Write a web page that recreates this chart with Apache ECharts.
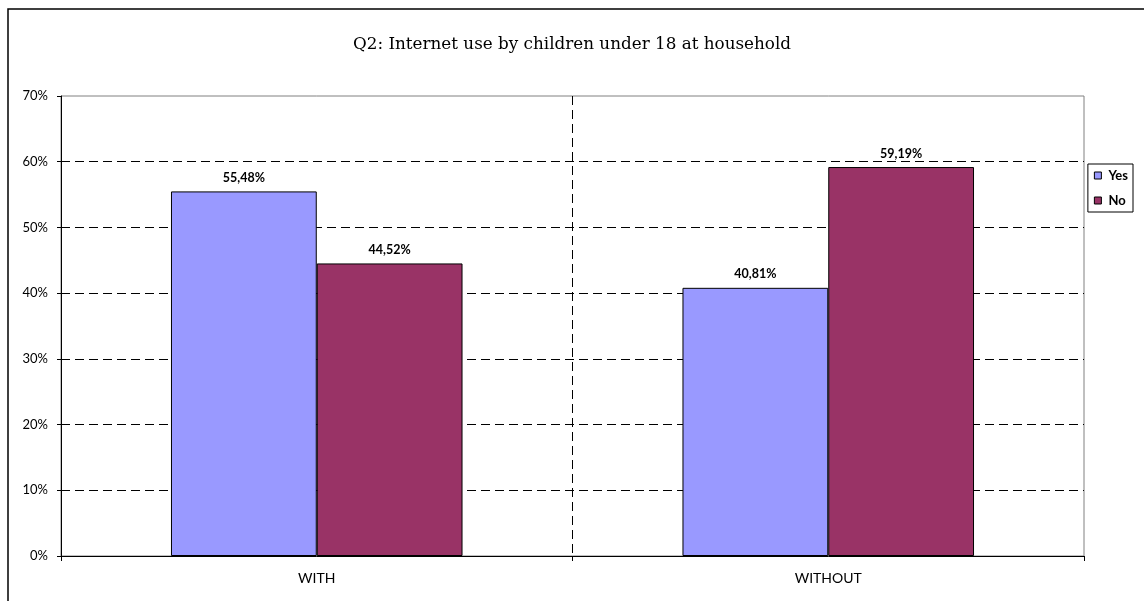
<!DOCTYPE html>
<html>
<head>
<meta charset="utf-8">
<script src="https://cdn.jsdelivr.net/npm/echarts@6/dist/echarts.min.js"></script>
<style>html,body{margin:0;padding:0;background:#fff}#c{width:1144px;height:601px}</style>
</head>
<body>
<div id="c"></div>
<script>
const categories = ['WITH', 'WITHOUT'];
const seriesNames = ['Yes', 'No'];
const yesValues = [55.48, 40.81];
const noValues = [44.52, 59.19];
const yTicks = [0, 10, 20, 30, 40, 50, 60, 70];
const titleText = 'Q2: Internet use by children under 18 at household';

const chart = echarts.init(document.getElementById('c'), null, {renderer: 'canvas'});
const fmt = p => p.value.toFixed(2).replace('.', ',') + '%';
const labelStyle = {show: true, position: 'top', distance: 7, formatter: fmt,
  fontFamily: 'Lato, "Open Sans", sans-serif', fontWeight: 'bold', fontSize: 12.5, color: '#000'};

chart.setOption({
  animation: false,
  backgroundColor: '#fff',
  title: {text: titleText, left: 'center', top: 31,
    textStyle: {fontFamily: '"DejaVu Serif", serif', fontWeight: 'normal', fontSize: 16.8, color: '#000'}},
  graphic: [{type: 'rect', shape: {x: 8, y: 9, width: 1300, height: 800},
    style: {fill: 'none', stroke: '#000', lineWidth: 1.5}, silent: true, z: 100}],
  legend: {orient: 'vertical', right: 11, top: 164, data: seriesNames,
    itemWidth: 7, itemHeight: 7, itemGap: 12, padding: [5, 5, 5, 6],
    borderColor: '#000', borderWidth: 1,
    icon: 'rect',
    itemStyle: {borderColor: '#000', borderWidth: 1},
    textStyle: {fontFamily: 'Lato, "Open Sans", sans-serif', fontWeight: 'bold', fontSize: 13, color: '#000', padding: [0, 0, 0, 2]}},
  grid: {left: 61, top: 96, right: 60, bottom: 45, show: true, borderColor: '#808080', borderWidth: 1},
  xAxis: {type: 'category', data: categories,
    axisLine: {lineStyle: {color: '#000', width: 1}},
    axisTick: {show: true, length: 5, lineStyle: {color: '#000'}},
    axisLabel: {margin: 15, fontFamily: 'Lato, "Open Sans", sans-serif', fontSize: 14, color: '#000'},
    splitLine: {show: true, showMinLine: false, showMaxLine: false, lineStyle: {color: '#000', type: [9, 5], width: 1}}},
  yAxis: {type: 'value', min: 0, max: 70, interval: 10,
    axisLine: {show: true, lineStyle: {color: '#000', width: 1}},
    axisTick: {show: true, length: 4, lineStyle: {color: '#000'}},
    axisLabel: {margin: 13, formatter: v => yTicks.includes(v) ? v + '%' : '',
      fontFamily: 'Lato, "Open Sans", sans-serif', fontSize: 13, color: '#000'},
    splitLine: {show: true, showMinLine: false, showMaxLine: false, lineStyle: {color: '#000', type: [9, 5], width: 1}}},
  series: [
    {name: seriesNames[0], type: 'bar', data: yesValues, barWidth: '28.5%', barGap: '0%',
      itemStyle: {color: '#9999FF', borderColor: '#000', borderWidth: 1}, label: labelStyle},
    {name: seriesNames[1], type: 'bar', data: noValues, barWidth: '28.5%', barGap: '0%',
      itemStyle: {color: '#993366', borderColor: '#000', borderWidth: 1}, label: labelStyle}
  ]
});
</script>
</body>
</html>
